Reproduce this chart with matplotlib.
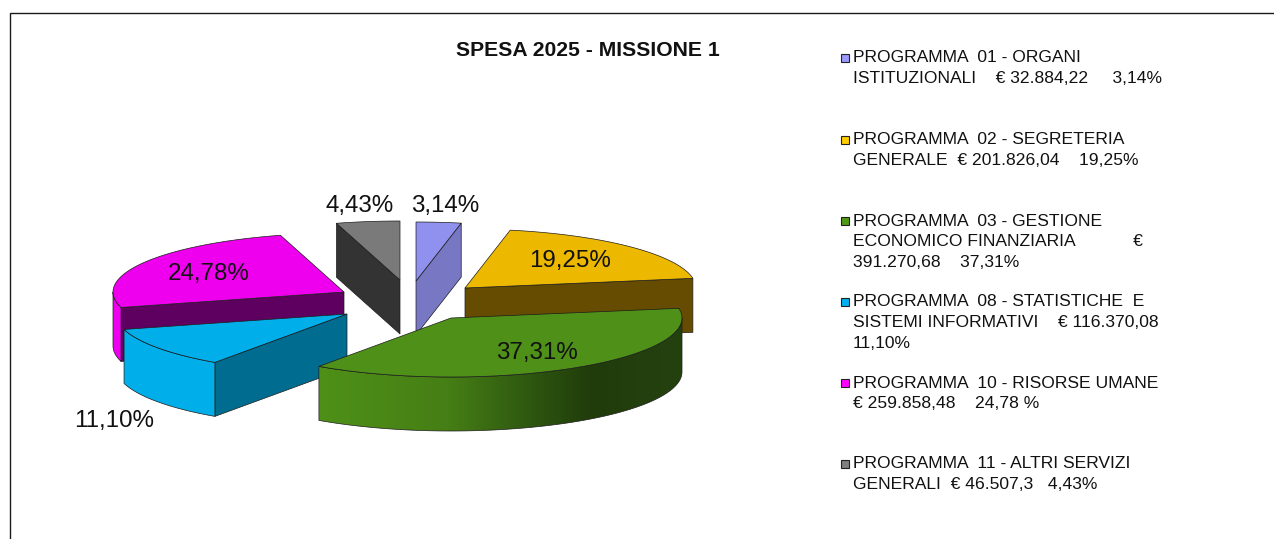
import numpy as np
import matplotlib
matplotlib.use('Agg')
import matplotlib.pyplot as plt
from matplotlib.colors import LinearSegmentedColormap
from matplotlib.patches import Polygon

plt.rcParams['font.family'] = ['Liberation Sans', 'DejaVu Sans']

# spending per programme, euro
amounts = [32884.22, 201826.04, 391270.68, 116370.08, 259858.48, 46507.3]
pct_labels = ['3,14%', '19,25%', '37,31%', '11,10%', '24,78%', '4,43%']
legend_labels = [
    ['PROGRAMMA  01 - ORGANI', 'ISTITUZIONALI    € 32.884,22     3,14%'],
    ['PROGRAMMA  02 - SEGRETERIA', 'GENERALE  € 201.826,04    19,25%'],
    ['PROGRAMMA  03 - GESTIONE', 'ECONOMICO FINANZIARIA            €', '391.270,68    37,31%'],
    ['PROGRAMMA  08 - STATISTICHE  E', 'SISTEMI INFORMATIVI    € 116.370,08', '11,10%'],
    ['PROGRAMMA  10 - RISORSE UMANE', '€ 259.858,48    24,78 %'],
    ['PROGRAMMA  11 - ALTRI SERVIZI', 'GENERALI  € 46.507,3   4,43%'],
]

top_colors = ['#9090EE', '#EDB900', '#4E9018', '#00AEEA', '#EE00EE', '#7A7A7A']
side_colors = ['#7777C4', '#664C00', '#2E5510', '#006D90', '#5E0060', '#333333']
legend_colors = ['#9999FF', '#FFCC00', '#4F9A14', '#00B0F0', '#FF00FF', '#808080']

# pie geometry in pixels
CX, CY = 407, 301
A, B, H = 231, 59, 54
# how far each slice is pulled out of the pie
explode = [(9, -20), (58, -13), (44, 17), (-60, 13), (-63, -9), (-7, -21)]
label_pos = [(445, 206), (570, 261), (537, 353), (114, 421), (209, 274), (360, 206)]
legend_y = [58, 140, 221, 302, 383, 464]
LINE_PITCH = 20.6
# back to front
draw_order = [5, 0, 1, 4, 3, 2]
EDGE = '#1c1c1c'


def rim_xy(ox, oy, a0, a1, n=80):
    t = np.radians(np.linspace(a0, a1, n))
    return ox + A * np.sin(t), oy - B * np.cos(t)


def draw_slice(ax, i, a0, a1):
    ox, oy = CX + explode[i][0], CY + explode[i][1]
    top = top_colors[i]
    side = side_colors[i]

    # cut faces, only the ones turned to the viewer
    for ang, visible in ((a0, np.sin(np.radians(a0)) < -1e-6), (a1, np.sin(np.radians(a1)) > 1e-6)):
        if visible:
            x, y = rim_xy(ox, oy, ang, ang, 1)
            quad = [(ox, oy), (x[0], y[0]), (x[0], y[0] + H), (ox, oy + H)]
            ax.add_patch(Polygon(quad, fc=side, ec=EDGE, lw=0.5))

    # outer wall, front half of the ellipse
    r0, r1 = max(a0, 90), min(a1, 270)
    if r1 > r0:
        x, y = rim_xy(ox, oy, r0, r1)
        wall = np.r_[np.c_[x, y], np.c_[x, y + H][::-1]]
        if i == 2:
            # the big slice has a shaded wall
            cmap = LinearSegmentedColormap.from_list('wall', [(0, '#4E9018'), (0.35, '#467F15'), (0.6, '#2C5410'), (0.75, '#203C0A'), (1, '#244210')])
            patch = Polygon(wall, fc='none', ec=EDGE, lw=0.5, zorder=2)
            ax.add_patch(patch)
            im = ax.imshow(np.linspace(0, 1, 256)[None, :], cmap=cmap, aspect='auto',
                           extent=(x.min(), x.max(), y.max() + H, y.min()), zorder=1.5)
            im.set_clip_path(patch)
        else:
            ax.add_patch(Polygon(wall, fc=top, ec=EDGE, lw=0.5))

    # top face
    x, y = rim_xy(ox, oy, a0, a1)
    ax.add_patch(Polygon(np.r_[[(ox, oy)], np.c_[x, y]], fc=top, ec=EDGE, lw=0.5, zorder=2))


def makePlot():
    fig = plt.figure(figsize=(12.74, 5.39), dpi=100)
    ax = fig.add_axes([0, 0, 1, 1])

    edges = np.r_[0, np.cumsum(amounts)] / np.sum(amounts) * 360
    for k, i in enumerate(draw_order):
        # separate axes layer per slice so the later ones cover the earlier ones
        lay = fig.add_axes([0, 0, 1, 1], zorder=k + 1)
        lay.set_xlim(0, 1274)
        lay.set_ylim(539, 0)
        lay.axis('off')
        draw_slice(lay, i, edges[i], edges[i + 1])
        lay.set_xlim(0, 1274)
        lay.set_ylim(539, 0)

    top = fig.add_axes([0, 0, 1, 1], zorder=20)
    top.set_xlim(0, 1274)
    top.set_ylim(539, 0)
    top.axis('off')
    ax.axis('off')

    # frame of the sheet, left and top only
    top.plot([9.5, 9.5, 1274], [539, 12.5, 12.5], color='#1a1a1a', lw=1.0, solid_joinstyle='miter')

    top.text(587.5, 50, 'SPESA 2025 - MISSIONE 1', fontsize=15.2, fontweight='bold',
             ha='center', va='center', color='#111111')

    for txt, (x, y) in zip(pct_labels, label_pos):
        top.text(x, y, txt, fontsize=17.4, ha='center', va='center', color='#111111')

    for i, lines in enumerate(legend_labels):
        top.plot(845, legend_y[i], 's', ms=6.0, mfc=legend_colors[i], mec='#222222', mew=0.8)
        for j, line in enumerate(lines):
            top.text(853, legend_y[i] + j * LINE_PITCH, line, fontsize=12.6, ha='left', va='center', color='#111111')

    fig.savefig('out.png', dpi=100, facecolor='white')


def main():
    makePlot()


if __name__ == "__main__":
    main()
